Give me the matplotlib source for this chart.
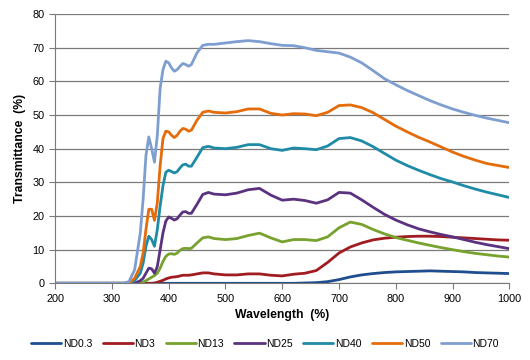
import matplotlib

matplotlib.use("Agg")
import matplotlib.pyplot as plt

plt.rcParams["font.family"] = ["Liberation Sans", "DejaVu Sans"]

WAVELENGTH = [200, 300, 320, 330, 340, 350, 355, 360, 365, 370, 375, 380, 385, 390, 395,
              400, 405, 410, 415, 420, 425, 430, 435, 440, 450, 460, 470, 480, 500, 520,
              540, 560, 580, 600, 620, 640, 660, 680, 700, 720, 740, 760, 780, 800, 820,
              840, 860, 880, 900, 920, 940, 960, 980, 1000]

ND0_3 = [0, 0, 0, 0, 0, 0, 0, 0, 0, 0, 0, 0, 0, 0, 0,
         0, 0, 0, 0, 0, 0, 0, 0, 0, 0, 0, 0, 0, 0, 0,
         0, 0, 0, 0, 0, 0.1, 0.2, 0.5, 1.1, 1.9, 2.5, 2.9, 3.2, 3.4, 3.5,
         3.6, 3.7, 3.6, 3.5, 3.4, 3.2, 3.1, 3.0, 2.9]
ND3 = [0, 0, 0, 0, 0, 0, 0, 0, 0, 0, 0.1, 0.3, 0.6, 0.9, 1.3,
       1.6, 1.8, 1.9, 2.0, 2.2, 2.4, 2.4, 2.4, 2.5, 2.8, 3.1, 3.1, 2.8, 2.5, 2.5,
       2.8, 2.8, 2.4, 2.2, 2.7, 3.0, 3.8, 6.2, 9.0, 10.8, 12.0, 12.9, 13.4, 13.7, 13.9,
       14.0, 14.0, 13.9, 13.7, 13.5, 13.3, 13.1, 12.9, 12.8]
ND13 = [0, 0, 0, 0, 0, 0.2, 0.4, 0.8, 1.3, 1.8, 2.3, 3.0, 4.5, 6.5, 8.0,
        8.7, 8.8, 8.6, 9.0, 9.8, 10.3, 10.4, 10.3, 10.4, 12.0, 13.5, 13.8, 13.3, 13.0, 13.3,
        14.2, 14.9, 13.5, 12.3, 13.0, 13.0, 12.7, 13.8, 16.5, 18.2, 17.5, 16.0, 14.7, 13.6, 12.8,
        12.0, 11.3, 10.6, 10.0, 9.4, 8.9, 8.5, 8.1, 7.8]
ND25 = [0, 0, 0, 0, 0, 0.8, 1.5, 3.0, 4.5, 4.3, 3.0, 5.0, 10.0, 15.0, 18.5,
        19.7, 19.3, 18.8, 19.2, 20.3, 21.2, 21.3, 20.8, 20.8, 23.5, 26.4, 27.0, 26.5, 26.3, 26.8,
        27.8, 28.2, 26.2, 24.7, 25.0, 24.6, 23.8, 24.8, 27.0, 26.8, 24.8, 22.6, 20.5, 18.8, 17.4,
        16.2, 15.3, 14.5, 13.8, 13.0, 12.2, 11.5, 10.9, 10.3]
ND40 = [0, 0, 0, 0, 0.8, 3.0, 6.0, 11.0, 14.0, 13.0, 11.0, 16.0, 23.0, 29.0, 33.0,
        33.6, 33.2, 32.8, 33.2, 34.3, 35.2, 35.4, 34.8, 34.8, 37.5, 40.3, 40.7, 40.2, 40.0, 40.4,
        41.2, 41.2, 40.0, 39.5, 40.2, 40.0, 39.7, 40.8, 43.0, 43.3, 42.3, 40.6, 38.6, 36.6, 35.0,
        33.6, 32.3, 31.1, 30.1, 29.0, 28.0, 27.1, 26.3, 25.5]
ND50 = [0, 0, 0, 0, 1.5, 5.0, 9.0, 16.0, 22.0, 22.0, 18.7, 24.0, 35.0, 43.0, 45.2,
        45.0, 44.0, 43.3, 44.0, 45.2, 46.0, 45.8, 45.2, 45.5, 48.5, 50.8, 51.2, 50.8, 50.6, 51.0,
        51.8, 51.8, 50.5, 50.0, 50.4, 50.3, 49.8, 50.8, 52.8, 53.0, 52.2, 50.7, 48.7, 46.7, 45.0,
        43.4, 42.0, 40.5, 39.0, 37.7, 36.6, 35.6, 35.0, 34.4]
ND70 = [0, 0, 0, 0.5, 4.0, 15.0, 25.0, 38.0, 43.5, 40.0, 36.0, 44.0, 58.0, 63.5, 66.0,
        65.5, 64.0, 63.0, 63.5, 64.5, 65.3, 65.0, 64.5, 65.0, 68.5, 70.7, 71.0, 71.0, 71.4, 71.8,
        72.1, 71.8, 71.2, 70.7, 70.6, 70.0, 69.2, 68.8, 68.4, 67.2, 65.5, 63.2, 60.8, 59.0, 57.3,
        55.8, 54.3, 53.0, 51.8, 50.8, 49.9, 49.1, 48.4, 47.7]

SERIES = [
    ("ND0.3", ND0_3, "#1f4e8f"),
    ("ND3", ND3, "#a01c20"),
    ("ND13", ND13, "#77a22d"),
    ("ND25", ND25, "#5b3280"),
    ("ND40", ND40, "#1f8ba6"),
    ("ND50", ND50, "#e46c0a"),
    ("ND70", ND70, "#7f9ed0"),
]


def main() -> None:
    fig = plt.figure(figsize=(5.3, 3.6), dpi=100)
    ax = fig.add_axes((0.104, 0.213, 0.857, 0.748))

    for label, values, color in SERIES:
        ax.plot(WAVELENGTH, values, color=color, linewidth=2.0, label=label,
                solid_capstyle="round")

    ax.set_xlim(200, 1000)
    ax.set_ylim(0, 80)
    ax.set_xticks(range(200, 1001, 100))
    ax.set_yticks(range(0, 81, 10))
    ax.grid(True, axis="y", color="#7a7a7a", linewidth=0.9)
    ax.set_axisbelow(True)
    for side in ("top", "right"):
        ax.spines[side].set_visible(False)
    for side in ("left", "bottom"):
        ax.spines[side].set_color("#7a7a7a")
    ax.tick_params(colors="#7a7a7a", labelcolor="black", labelsize=7.8, length=4)

    ax.set_xlabel("Wavelength  (%)", fontsize=8.8, fontweight="bold", labelpad=4)
    ax.set_ylabel("Transmittance  (%)", fontsize=8.8, fontweight="bold", labelpad=5)

    fig.legend(loc="lower center", ncol=7, frameon=False, fontsize=7.5,
               bbox_to_anchor=(0.5, 0.005), handlelength=2.9, handletextpad=0.15,
               columnspacing=1.0)

    fig.savefig("out.png")


if __name__ == "__main__":
    main()
